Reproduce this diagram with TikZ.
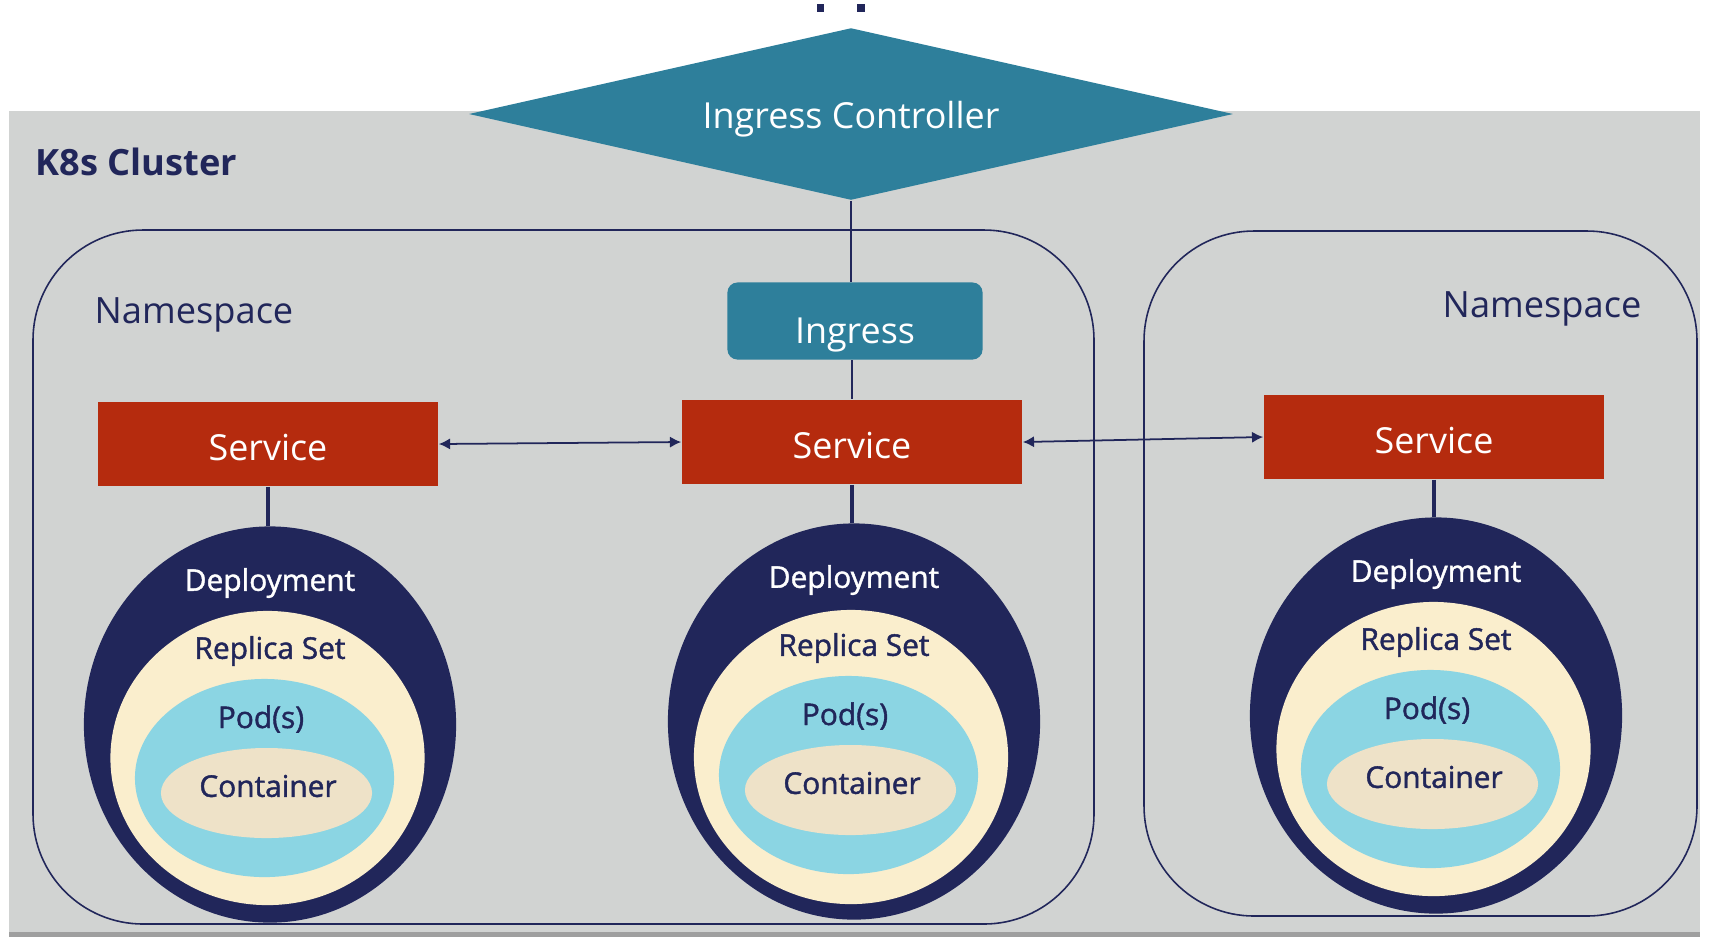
\documentclass[tikz,border=0pt]{standalone}
\usepackage{fontspec}
\setmainfont{Open Sans}
\newfontfamily\semib[FakeBold=1.4]{Open Sans}
\usetikzlibrary{shapes.geometric,arrows.meta}
\definecolor{clustergray}{RGB}{209,211,210}
\definecolor{ingteal}{RGB}{46,127,155}
\definecolor{svcred}{RGB}{181,43,14}
\definecolor{navy}{RGB}{33,38,90}
\definecolor{rscream}{RGB}{250,238,205}
\definecolor{podblue}{RGB}{139,213,227}
\definecolor{cntbeige}{RGB}{238,226,200}

\begin{document}
\begin{tikzpicture}[x=0.01cm,y=-0.01cm,
	svc/.style={fill=svcred, text=white, minimum width=3.4cm, minimum height=0.84cm, inner sep=0pt, text height=0.95em, text depth=0pt, font=\fontsize{10.2}{12}\selectfont},
	deploy/.style={ellipse, fill=navy, minimum width=3.72cm, minimum height=3.96cm, inner sep=0pt},
	rset/.style={ellipse, fill=rscream, minimum width=3.14cm, minimum height=2.94cm, inner sep=0pt},
	pod/.style={ellipse, fill=podblue, minimum width=2.59cm, minimum height=1.98cm, inner sep=0pt},
	cnt/.style={ellipse, fill=cntbeige, minimum width=2.11cm, minimum height=0.9cm, inner sep=0pt},
	inner/.style={text=navy, font=\fontsize{8.5}{10}\semib},
	deplab/.style={text=white, font=\fontsize{8.5}{10}\semib},
	nsbox/.style={draw=navy, line width=0.45pt, rounded corners=1.1cm},
	link/.style={navy, line width=0.35pt},
	svclink/.style={navy, line width=0.9pt},
	biarrow/.style={navy, line width=0.5pt, {Latex[length=3.2pt,width=3.2pt]}-{Latex[length=3.2pt,width=3.2pt]}}]
\useasboundingbox (0,0) rectangle (1725,941);

%%%% -----------Cluster-------------%%%%
\fill [clustergray]	(9,111) rectangle (1700,935)			;
\fill [gray!75]	(9,932) rectangle (1700,937)			;
\node [anchor=west, inner sep=0pt, text=navy, font=\fontsize{10.3}{12}\selectfont\bfseries] (k8s) at (35,162) {K8s Cluster}	;
\fill [navy]	(817,4) rectangle (824,12)			;
\fill [navy]	(857,4) rectangle (865,12)			;

%%%----------Namespaces---------%%%
\draw [nsbox]	(33,230) rectangle (1094,924)			;
\draw [nsbox]	(1144,231) rectangle (1697,916)			;
\node [text=navy, font=\fontsize{10.3}{12}\selectfont] (ns1) at (194,315) {Namespace}	;
\node [text=navy, font=\fontsize{10.3}{12}\selectfont] (ns2) at (1542,309) {Namespace}	;

%%%%------------Ingress----------------%%
\node [diamond, aspect=4.44, fill=ingteal, minimum width=7.64cm, minimum height=1.72cm, inner sep=0pt] (ctrl) at (851,114) {};
\node [text=white, font=\fontsize{10.2}{12}\selectfont] (ctrltxt) at (851,119) {Ingress Controller};
\node [fill=ingteal, rounded corners=0.1cm, minimum width=2.55cm, minimum height=0.77cm, inner sep=0pt] (ing) at (855,321) {};
\node [text=white, font=\fontsize{10.2}{12}\selectfont] (ingtxt) at (855,335) {Ingress};
\draw [link] (ctrl.south) -- (ctrl.south |- ing.north)		;

%%%%------------Services----------------%%
\node [svc] (svc1) at (268,444) {Service}			;
\node [svc] (svc2) at (852,442) {Service}			;
\node [svc] (svc3) at (1434,437) {Service}			;
\draw [link] (svc2.north |- ing.south) -- (svc2.north)		;
\draw [biarrow] (svc1.east) -- (svc2.west)			;
\draw [biarrow] (svc2.east) -- (svc3.west)			;

%%%-------------Stack 1-------------%%%
\node [deploy] (dep1) at (270,724.5) {}			;
\node [rset] (rs1) at (267.5,758) {}			;
\node [pod] (pod1) at (264.5,778) {}			;
\node [cnt] (cnt1) at (266.5,793) {}			;
\node [deplab] (dlab1) at (270,583) {Deployment}	;
\node [inner] (rlab1) at (270,651) {Replica Set}	;
\node [inner] (plab1) at (261,719) {Pod(s)}		;
\node [inner] (clab1) at (268,786) {Container}		;
\draw [svclink] (svc1.south) -- (svc1.south |- dep1.north)	;

%%%-------------Stack 2-------------%%%
\node [deploy] (dep2) at (854,721.5) {}			;
\node [rset] (rs2) at (851,757) {}			;
\node [pod] (pod2) at (848.5,775) {}			;
\node [cnt] (cnt2) at (850.5,790) {}			;
\node [deplab] (dlab2) at (854,580) {Deployment}	;
\node [inner] (rlab2) at (854,648) {Replica Set}	;
\node [inner] (plab2) at (845,716) {Pod(s)}		;
\node [inner] (clab2) at (852,783) {Container}		;
\draw [svclink] (svc2.south) -- (svc2.south |- dep2.north)	;

%%%-------------Stack 3-------------%%%
\node [deploy] (dep3) at (1436,715.5) {}			;
\node [rset] (rs3) at (1433.5,749) {}			;
\node [pod] (pod3) at (1430.5,769) {}			;
\node [cnt] (cnt3) at (1432.5,784) {}			;
\node [deplab] (dlab3) at (1436,574) {Deployment}	;
\node [inner] (rlab3) at (1436,642) {Replica Set}	;
\node [inner] (plab3) at (1427,710) {Pod(s)}		;
\node [inner] (clab3) at (1434,777) {Container}		;
\draw [svclink] (svc3.south) -- (svc3.south |- dep3.north)	;
\end{tikzpicture}
\end{document}
